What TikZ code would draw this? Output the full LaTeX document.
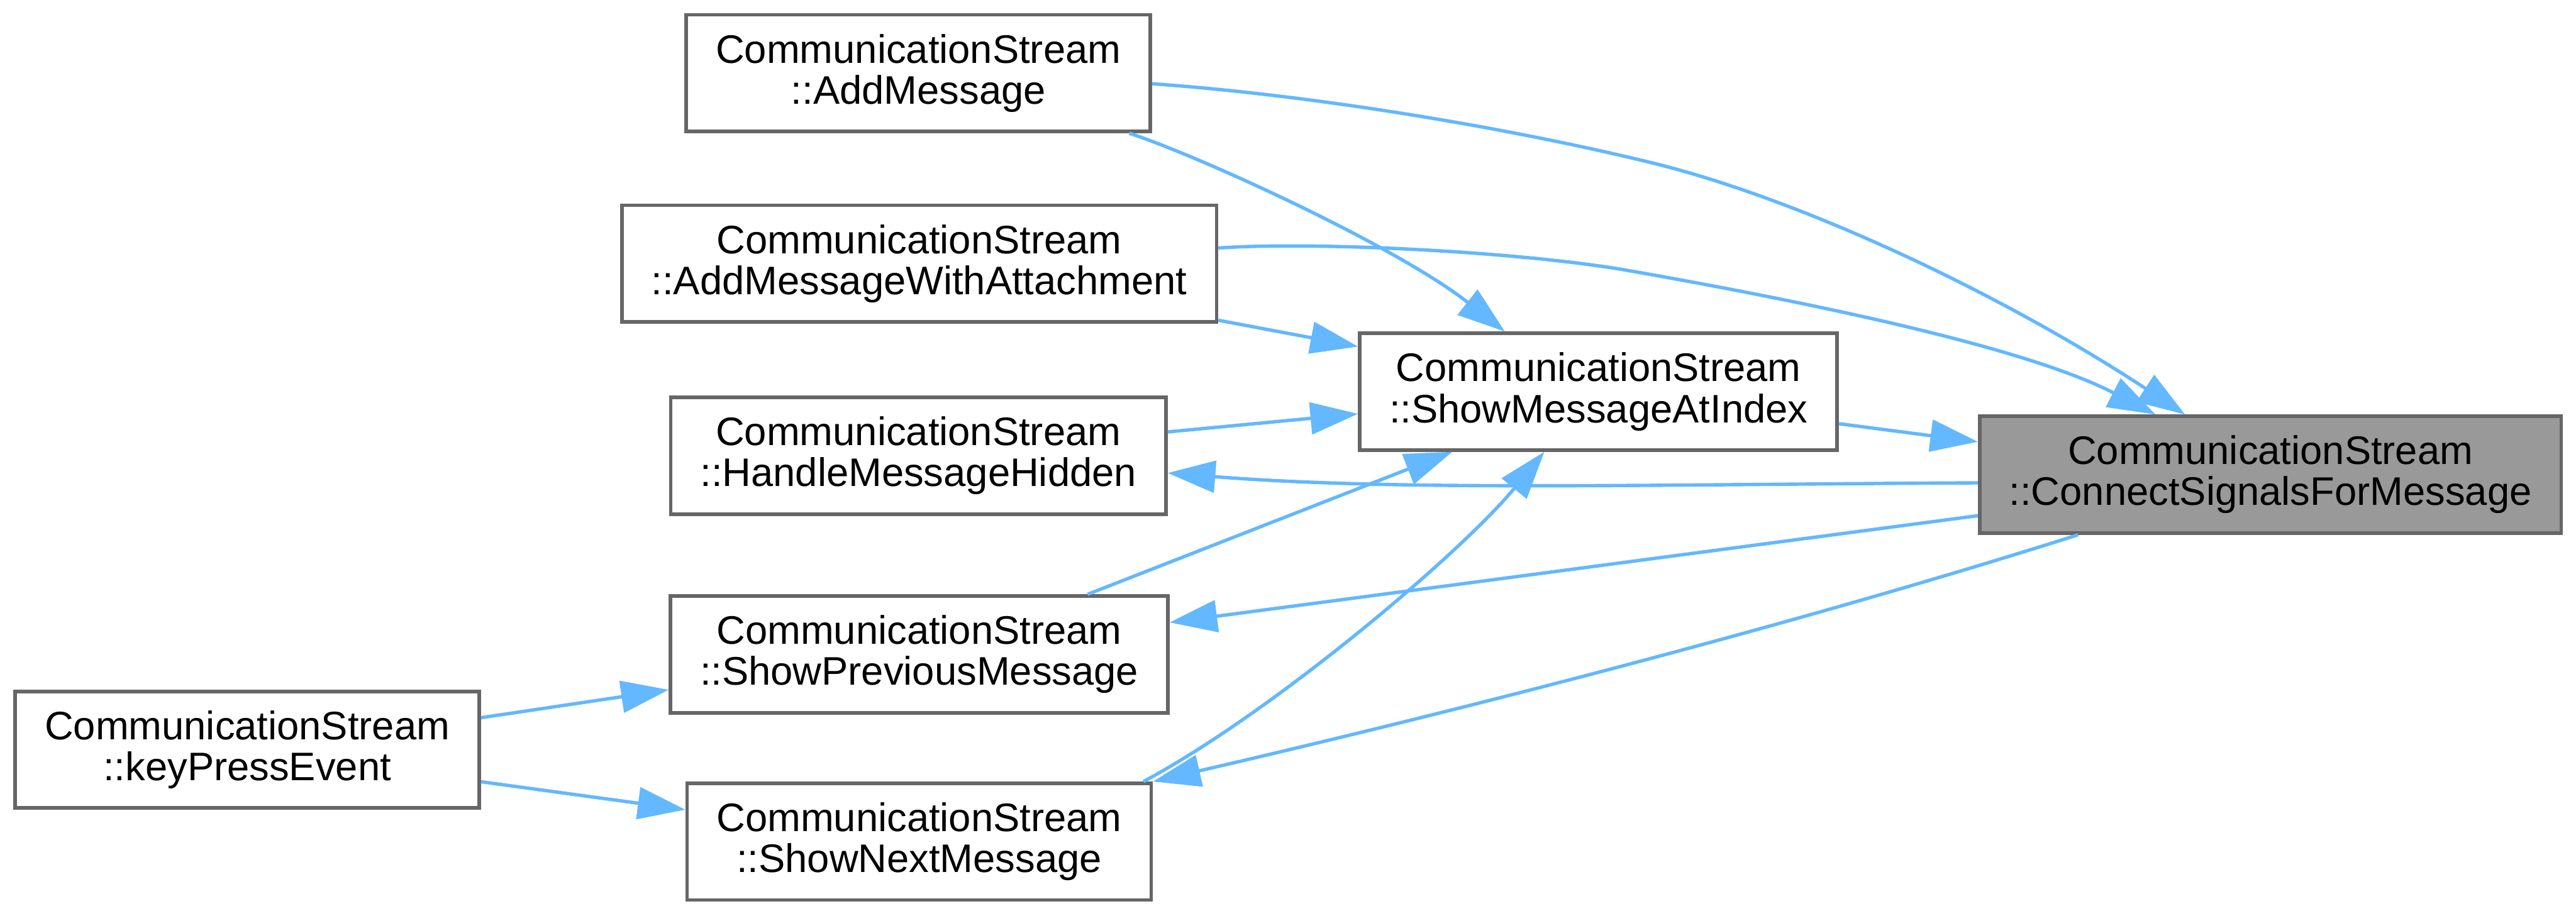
\documentclass[tikz,border=0pt]{standalone}
\usepackage{fontspec}
\setmainfont{Liberation Sans}
\usepackage{xcolor}
\usepackage{tikz}
\usetikzlibrary{arrows.meta, calc}

\definecolor{edgeblue}{HTML}{63B8FF}
\definecolor{boxgray}{HTML}{666666}
\definecolor{fillgray}{HTML}{999999}

\begin{document}
\begin{tikzpicture}[x=0.0145cm, y=-0.0145cm,
    fn/.style={draw=boxgray, line width=0.9pt, fill=white, align=center,
      inner xsep=0.26cm, inner ysep=0pt, minimum height=1.03cm,
      font=\fontsize{10pt}{10.3pt}\selectfont,
      execute at begin node={\rule{0pt}{0.36cm}}},
    call/.style={draw=edgeblue, line width=0.85pt, -{Triangle[length=0.42cm, width=0.28cm]}}]
  \useasboundingbox (0,0) rectangle (1568,557.5);
  % functions
  \node[fn] (kpe) at (150.5,456.5) {CommunicationStream\\::keyPressEvent};
  \node[fn] (am) at (559,44.5) {CommunicationStream\\::AddMessage};
  \node[fn] (amwa) at (559.5,160.5) {CommunicationStream\\::AddMessageWithAttachment};
  \node[fn] (hmh) at (559,277.5) {CommunicationStream\\::HandleMessageHidden};
  \node[fn] (spm) at (559.5,398.5) {CommunicationStream\\::ShowPreviousMessage};
  \node[fn] (snm) at (559.5,512.5) {CommunicationStream\\::ShowNextMessage};
  \node[fn] (smai) at (973,238.5) {CommunicationStream\\::ShowMessageAtIndex};
  \node[fn, fill=fillgray] (csm) at (1382,289) {CommunicationStream\\::ConnectSignalsForMessage};
  % into ConnectSignalsForMessage
  \draw[call] ($(am.east)+(0,6.5)$) .. controls (800,58) and (920,78) .. (1009,100)
    .. controls (1100,123) and (1220,180) .. ($(csm.north)+(-52,0)$);
  \draw[call] ($(amwa.east)+(0,-9.5)$) .. controls (800,147) and (920,153) .. (987,164)
    .. controls (1090,182) and (1230,210) .. ($(csm.north)+(-70,0)$);
  \draw[call] ($(smai.east)+(0,19.5)$) -- ($(csm.west)+(0,-20)$);
  % out of ConnectSignalsForMessage
  \draw[call] ($(csm.west)+(0,5)$) .. controls (1000,295) and (850,299) .. ($(hmh.east)+(0,10.5)$);
  \draw[call] ($(csm.west)+(0,25)$) -- ($(spm.east)+(0,-19.5)$);
  \draw[call] ($(csm.south)+(-117,0)$) .. controls (1100,378) and (900,430) .. (snm.north east);
  % into ShowMessageAtIndex
  \draw[call] ($(am.south east)+(-14,0)$) .. controls (730,95) and (850,150) .. ($(smai.north)+(-57,0)$);
  \draw[call] ($(amwa.east)+(0,34.5)$) -- ($(smai.west)+(0,-27.5)$);
  \draw[call] ($(hmh.east)+(0,-14.5)$) -- ($(smai.west)+(0,13.5)$);
  \draw[call] ($(spm.north)+(102.5,0)$) -- ($(smai.south)+(-89,0)$);
  \draw[call] ($(snm.north)+(136.5,0)$) .. controls (776,433) and (890,336) .. ($(smai.south)+(-33,0)$);
  % keyPressEvent
  \draw[call] ($(kpe.east)+(0,-19.5)$) -- ($(spm.west)+(0,21.5)$);
  \draw[call] ($(kpe.east)+(0,19.5)$) -- ($(snm.west)+(0,-19.5)$);
\end{tikzpicture}
\end{document}
